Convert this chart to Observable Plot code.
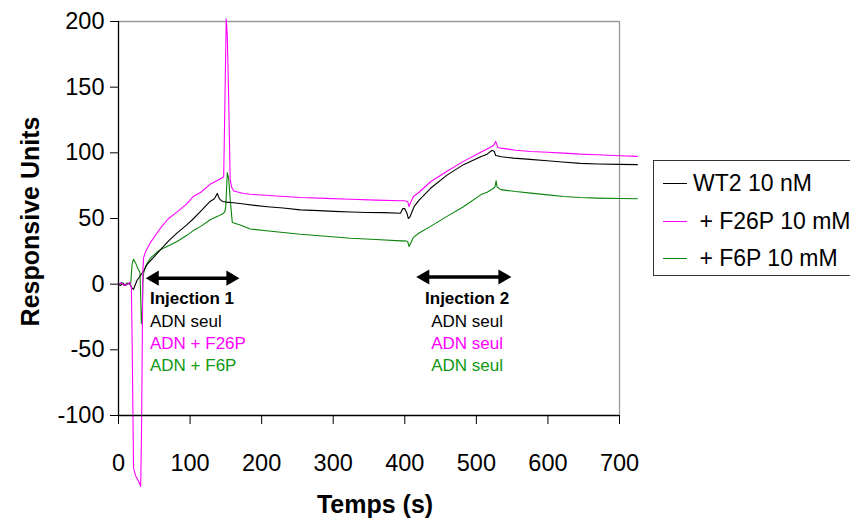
<!DOCTYPE html>
<html>
<head>
<meta charset="utf-8">
<script src="https://cdn.jsdelivr.net/npm/d3@7"></script>
<script src="https://cdn.jsdelivr.net/npm/@observablehq/plot@0.6"></script>
<style>
  html, body { margin: 0; padding: 0; background: #fff; overflow: hidden; }
  #wrap { position: relative; width: 850px; height: 521px; overflow: hidden; font-family: "Liberation Sans", Arial, sans-serif; }
  .legend { position: absolute; left: 653px; top: 160px; width: 230px; height: 114px; border: 1px solid #333; background: #fff; }
  .legend .row { position: absolute; left: 0; height: 0; }
  .legend .sw { position: absolute; left: 9px; width: 24px; height: 0; border-top: 1px solid; }
  .legend .lb { position: absolute; left: 39px; top: -14px; font-size: 23px; line-height: 28px; white-space: pre; color: #000; }
</style>
</head>
<body>
<div id="wrap">
  <div id="chart"></div>
  <div class="legend" id="legend"></div>
</div>
<script>
// ---- Data ----
const wtT = [0,3,6,9,12,15,17,19,21,23,26,30,35,40,50,60,70,82,95,105,115,128,134,138,141,145,150,161,175,190,208,230,254,280,301,325,347,370,394,397,400,403,405,407,410,413,420,436,459,482,506,515,522,525,527,535,552,575,599,620,645,670,700,725];
const wtY = [0,-1,1,-1,0,1,-1,-3,-4,-1,3,6,10,15,21,27,33,39,45,50,55.6,63,65,69,65,63,62.5,62,61,60,59,58,56.6,56,55.4,55,54.6,54.5,54,57.5,57.5,54,50,51,55,59,64,73,83,91,97,99,102,101,98,97,96,95,94,93,92,91.5,91.2,91];

const f26T = [0,4,8,12,16,18,19,21,24,28,31,32,33,34,35,38,45,59,70,82,95,105,115,128,138,145,147,149,150.5,152,154,156,158,161,175,184,210,254,290,324,360,394,400,404,406,408,412,420,436,459,482,506,515,522,524,527,530,534,555,576,600,622,645,669,700,725];
const f26Y = [0,1,-1,0,1,-3,-40,-140,-146,-150,-154,-120,-60,10,20,25,32,43,50,55,61,67,70,76,79,81,82,150,202,190,140,80,74,71,69,68.5,67.5,66,65.3,64.7,64,63.5,63.5,63,59,62,66.8,70,78,86,93.5,100.5,103,105,105.5,108.7,104,103.6,102,101,100.5,99.8,99,98.5,97.8,97.3];

const f6T = [0,4,8,12,15,17,19,21,24,27,30,31,32,33,34,35,38,45,55,65,82,95,105,115,128,140,147,149,150,152,154,156,159,170,184,210,254,290,324,360,394,400,404,406,408,412,420,436,459,482,506,515,524,526,527.6,529,534,555,576,600,622,645,669,700,725];
const f6Y = [0,1,-1,1,0,0,15,19,16,12,9,-10,-30,-30,0,8,14,20,25,28,32.5,37,41,44,49,52,54,56,60,85,80,65,47,45,42,40.5,38,36.5,35,34,33,33,32.5,28.7,31,35.6,39,44,51.6,59,68,70,73,74,78.7,74,72,70.5,69.3,68,66.8,66,65.5,65.2,65];

const seriesNames = ["WT2 10 nM", " + F26P 10 mM", " + F6P 10 mM"];
const seriesColors = ["#000000", "#ff00ff", "#0a850a"];

const xTicks = [0,100,200,300,400,500,600,700];
const yTicks = [-100,-50,0,50,100,150,200];

const inj1Lines = ["Injection 1", "ADN seul", "ADN + F26P", "ADN + F6P"];
const inj2Lines = ["Injection 2", "ADN seul", "ADN seul", "ADN seul"];
const injTextColors = ["#000000", "#000000", "#ff00ff", "#119911"];
const injTextY = [-11, -28.4, -45.2, -62];
const inj1TextX = 44;
const inj2TextX = 487;
const arrows = [{x1: 39, x2: 168, y: 4.6}, {x1: 417, x2: 548, y: 5.5}];

// ---- Build tables ----
const mk = (T, Y) => T.map((t, i) => ({t, y: Y[i]}));
const wt = mk(wtT, wtY), f26 = mk(f26T, f26Y), f6 = mk(f6T, f6Y);
const injText = [
  ...inj1Lines.map((s, i) => ({x: inj1TextX, y: injTextY[i], s, c: injTextColors[i], b: i === 0, a: "start"})),
  ...inj2Lines.map((s, i) => ({x: inj2TextX, y: injTextY[i], s, c: injTextColors[i], b: i === 0, a: "middle"}))
];

const font = "'Liberation Sans', Arial, sans-serif";
const textMark = (anchor, bold) => Plot.text(
  injText.filter(d => d.a === anchor && d.b === bold),
  {x: "x", y: "y", text: "s", fill: "c", textAnchor: anchor, fontSize: 17, fontWeight: bold ? "bold" : "normal"}
);

const chart = Plot.plot({
  width: 850,
  height: 521,
  marginLeft: 118,
  marginRight: 231,
  marginTop: 21,
  marginBottom: 106,
  x: {domain: [0, 700]},
  y: {domain: [-100, 200]},
  style: {fontFamily: font, background: "#fff", color: "#000"},
  marks: [
    Plot.ruleY([200], {stroke: "#9a9a9a", strokeWidth: 1.3}),
    Plot.ruleX([700], {stroke: "#9a9a9a", strokeWidth: 1.3}),
    Plot.line(f6, {x: "t", y: "y", stroke: seriesColors[2], strokeWidth: 1.1}),
    Plot.line(wt, {x: "t", y: "y", stroke: seriesColors[0], strokeWidth: 1.1}),
    Plot.line(f26, {x: "t", y: "y", stroke: seriesColors[1], strokeWidth: 1.1}),
    Plot.axisY({ticks: yTicks, tickSize: 8, tickPadding: 6, fontSize: 23.5, label: null, tickFormat: d => String(d)}),
    Plot.axisX({ticks: xTicks, tickSize: 9, tickPadding: 30, fontSize: 23.5, label: null, tickFormat: d => String(d)}),
    Plot.ruleX([0], {stroke: "#000", strokeWidth: 1.3}),
    Plot.ruleY([-100], {stroke: "#000", strokeWidth: 1.3}),
    Plot.ruleY(arrows, {x1: d => d.x1, x2: d => d.x2, y: "y", stroke: "#000", strokeWidth: 3.5, insetLeft: 10, insetRight: 10}),
    Plot.dot(arrows, {x: "x1", y: "y", symbol: "triangle", r: 5.6, rotate: -90, dx: 8, fill: "#000", stroke: null}),
    Plot.dot(arrows, {x: "x2", y: "y", symbol: "triangle", r: 5.6, rotate: 90, dx: -8, fill: "#000", stroke: null}),
    textMark("start", true),
    textMark("start", false),
    textMark("middle", true),
    textMark("middle", false),
    Plot.text(["Temps (s)"], {frameAnchor: "bottom", textAnchor: "middle", lineAnchor: "middle", dx: 6, dy: 89, fontSize: 25, fontWeight: "bold", fill: "#000"}),
    Plot.text(["Responsive Units"], {frameAnchor: "left", textAnchor: "middle", lineAnchor: "middle", rotate: -90, dx: -88, dy: 3, fontSize: 25, fontWeight: "bold", fill: "#000"})
  ]
});

document.getElementById("chart").appendChild(chart);

// Legend
const legend = document.getElementById("legend");
const rowY = [22, 60, 97];
seriesNames.forEach((name, i) => {
  const row = document.createElement("div");
  row.className = "row";
  row.style.top = rowY[i] + "px";
  const sw = document.createElement("div");
  sw.className = "sw";
  sw.style.borderTopColor = seriesColors[i];
  const lb = document.createElement("div");
  lb.className = "lb";
  lb.textContent = name;
  row.appendChild(sw);
  row.appendChild(lb);
  legend.appendChild(row);
});
</script>
</body>
</html>
